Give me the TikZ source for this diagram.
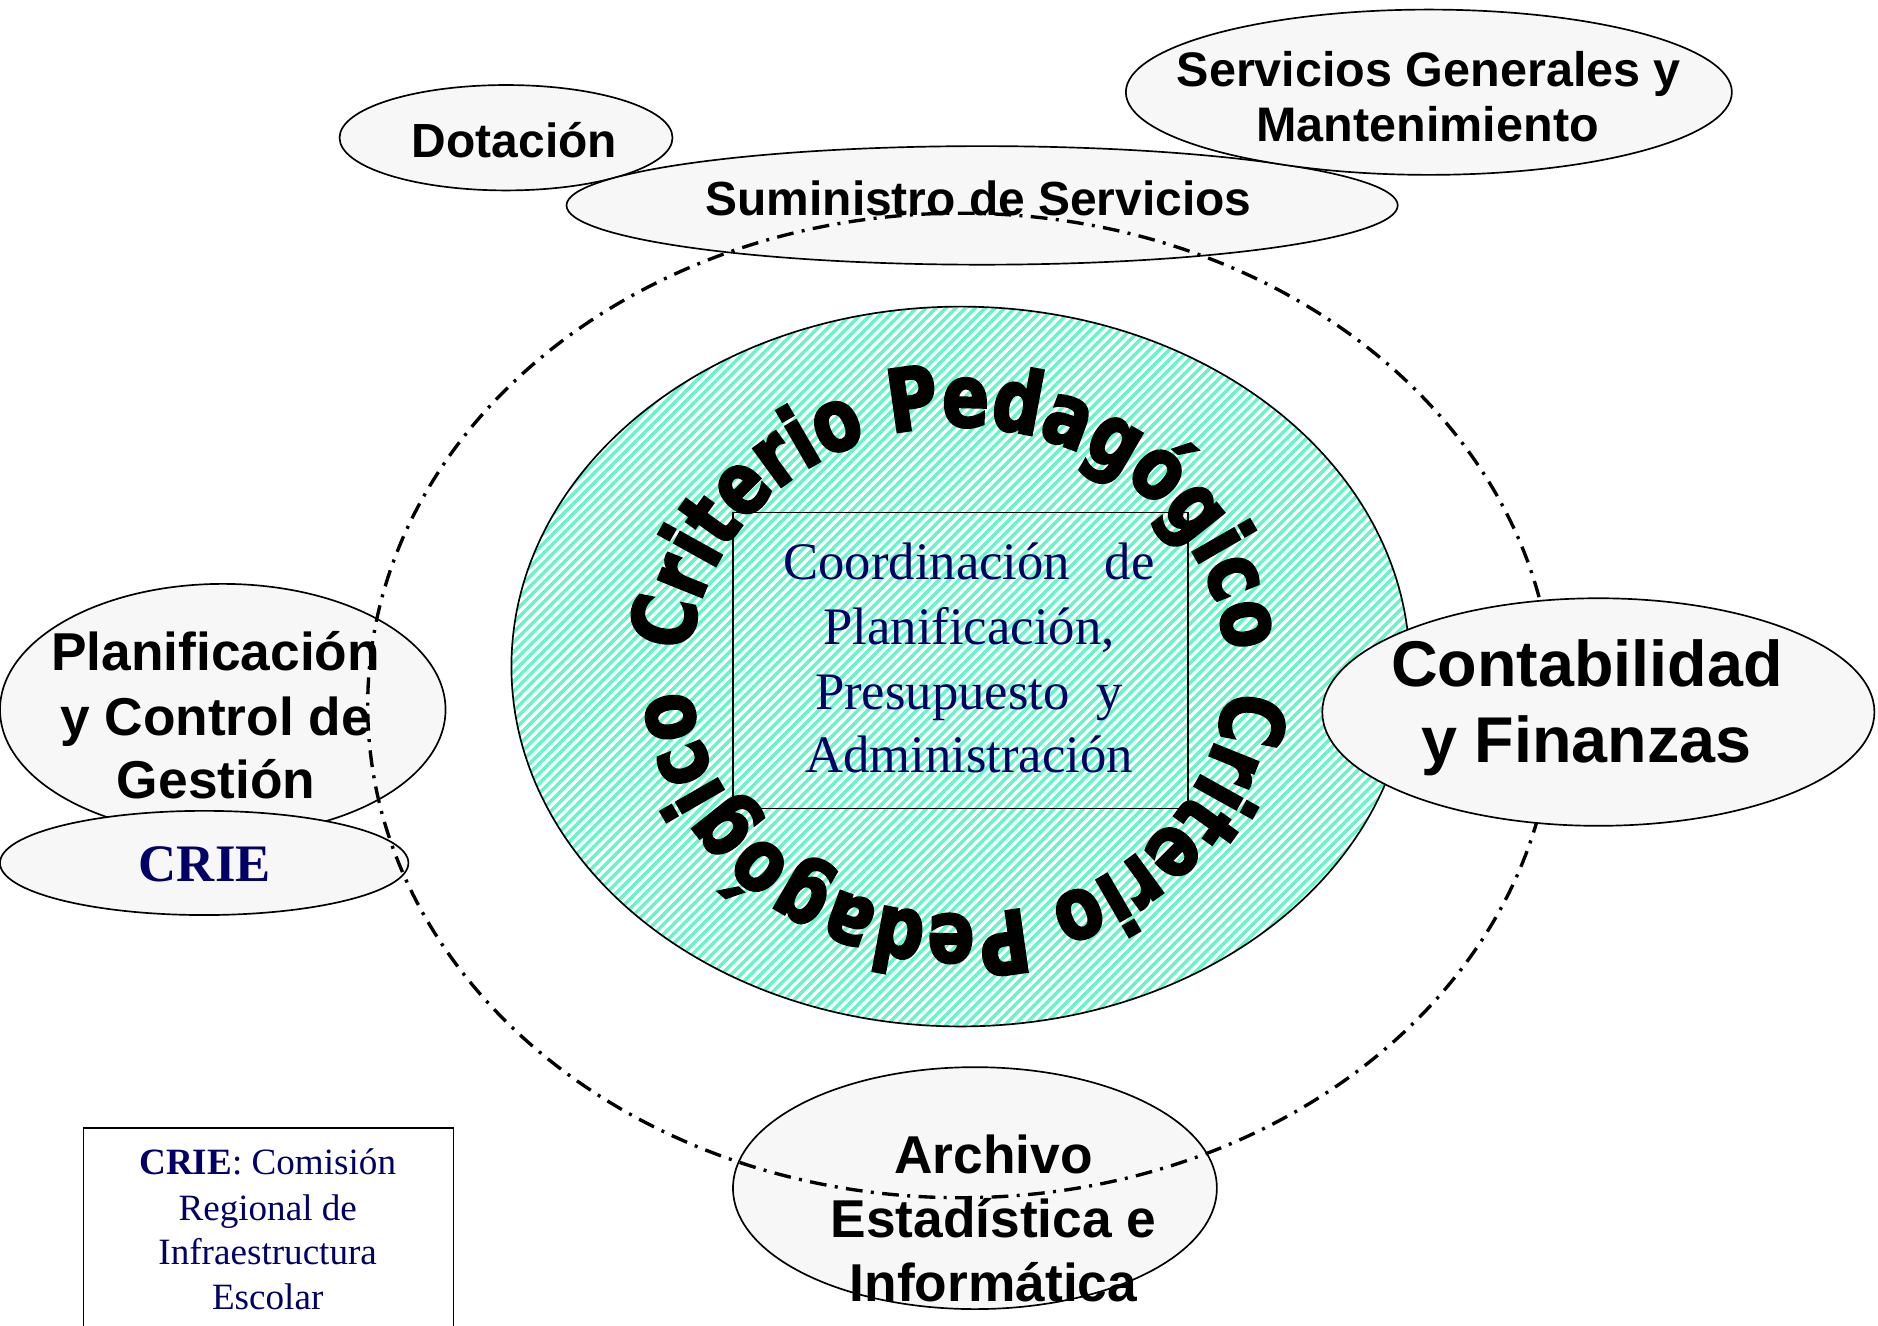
\documentclass[tikz,border=0pt]{standalone}
\usepackage{fontspec}
\usetikzlibrary{shapes.geometric,decorations.text}
\setmainfont{Liberation Sans}
\newfontfamily\tnrfont{Liberation Serif}
\newfontfamily\ringfont[FakeStretch=0.8,BoldFeatures={FakeBold=3}]{DejaVu Sans}
\newcommand\ringtxt{\ringfont\bfseries\fontsize{72}{84}\selectfont}
\definecolor{navy}{RGB}{0,0,102}
\definecolor{mint}{RGB}{100,245,200}
\definecolor{bub}{RGB}{247,247,247}
\tikzset{
  bubble/.style={ellipse, draw=black, line width=1.4pt, fill=bub, inner sep=0pt},
  bubblefill/.style={ellipse, fill=bub, inner sep=0pt},
  bubbleline/.style={ellipse, draw=black, line width=1.4pt, inner sep=0pt},
  lab/.style={anchor=base, inner sep=0pt, font=\bfseries\fontsize{#1}{#1}\selectfont},
  serlab/.style={anchor=base, inner sep=0pt, text=navy, font=\tnrfont\fontsize{#1}{#1}\selectfont},
  orbit/.style={line width=2.8pt, dash pattern=on 14pt off 7pt on 2.5pt off 7pt},
  ringtext/.style={decorate, decoration={text along path, text align=center, text={|\ringtxt|#1}}}
}
\begin{document}
\begin{tikzpicture}[x=1pt,y=1pt]
\useasboundingbox (0,0) rectangle (1568,-1107);

% central hatched ellipse
\node[ellipse, fill=white, inner sep=0pt, minimum width=750pt, minimum height=601pt] (hatch) at (802,-556.5) {};
\begin{scope}
  \clip (hatch.center) ellipse [x radius=375pt, y radius=300.5pt];
  \foreach \i in {-60,...,60}
    \draw[mint, line width=2.8pt] ([xshift=\i*8.2pt]hatch.center) ++(-400pt,-400pt) -- ++(800pt,800pt);
\end{scope}
\draw[line width=1.4pt] (hatch.center) ellipse [x radius=375pt, y radius=300.5pt];

% inner rectangle
\node[draw, line width=1.3pt, inner sep=0pt, minimum width=380pt, minimum height=247pt] (coordbox) at (802,-551.5) {};

% ring text
\coordinate (ringc) at (800,-560);
\path[ringtext={Criterio Pedagógico}] ([shift={(179:224pt and 204pt)}]ringc) arc[start angle=179, end angle=1, x radius=224pt, y radius=204pt];
\path[ringtext={Criterio Pedagógico}] ([shift={(-1:224pt and 204pt)}]ringc) arc[start angle=-1, end angle=-179, x radius=224pt, y radius=204pt];

% central text
\node[serlab=44] (c1) at (809,-484) {\makebox[310pt][s]{Coordinación de}};
\node[serlab=44] (c2) at (809,-538) {Planificación,};
\node[serlab=44] (c3) at (809,-592) {\makebox[257pt][s]{Presupuesto y}};
\node[serlab=44] (c4) at (809,-645) {Administración};

% top bubbles
\node[bubble, minimum width=278pt, minimum height=88pt] (dot) at (422.5,-115) {};
\node[lab=40] (dott) at (429.5,-131.5) {Dotación};
\node[bubble, minimum width=694pt, minimum height=99pt] (sum) at (820,-171.5) {};
\node[lab=40] (sumt) at (817,-180) {Suministro de Servicios};
\node[bubble, minimum width=506pt, minimum height=138pt] (serv) at (1193,-77) {};
\node[lab=40.5] (servt1) at (1193,-72) {Servicios Generales y};
\node[lab=40.5] (servt2) at (1192,-118) {Mantenimiento};

% left bubbles
\node[bubble, minimum width=372pt, minimum height=210pt] (plan) at (186,-592.5) {};
\node[lab=44.5] (plant1) at (180,-560) {Planificación};
\node[lab=44.5] (plant2) at (180,-614) {y Control de};
\node[lab=44.5] (plant3) at (180.5,-667) {Gestión};
\node[bubble, minimum width=341pt, minimum height=87pt] (crie) at (170.5,-720.5) {};
\node[anchor=base, inner sep=0pt, text=navy, font=\tnrfont\bfseries\fontsize{44}{44}\selectfont] (criet) at (171,-736) {CRIE};

% bottom bubble
\node[bubblefill, minimum width=404pt, minimum height=202pt] (arch) at (814,-992) {};
\node[lab=44.5] (archt1) at (829.5,-980) {Archivo};
\node[lab=44.5] (archt2) at (829.5,-1033) {Estadística e};
\node[lab=44.5] (archt3) at (829.5,-1087) {Informática};
\node[bubbleline, minimum width=404pt, minimum height=202pt] (archline) at (arch.center) {};

% orbit
\draw[orbit] (802,-589) ellipse [x radius=495pt, y radius=411pt];

% right bubble
\node[bubble, minimum width=461pt, minimum height=190pt] (cont) at (1334.5,-594.5) {};
\node[lab=54] (contt1) at (1325,-573) {Contabilidad};
\node[lab=54] (contt2) at (1324.5,-637) {y Finanzas};

% legend
\node[draw, line width=1.4pt, inner sep=0pt, anchor=north west, minimum width=309pt, minimum height=200pt] (legend) at (69,-941) {};
\node[serlab=31] (leg1) at (223.5,-981) {\textbf{CRIE}: Comisión};
\node[serlab=31] (leg2) at (223.5,-1019) {Regional de};
\node[serlab=31] (leg3) at (223.5,-1056) {Infraestructura};
\node[serlab=31] (leg4) at (223.5,-1093) {Escolar};
\end{tikzpicture}
\end{document}
